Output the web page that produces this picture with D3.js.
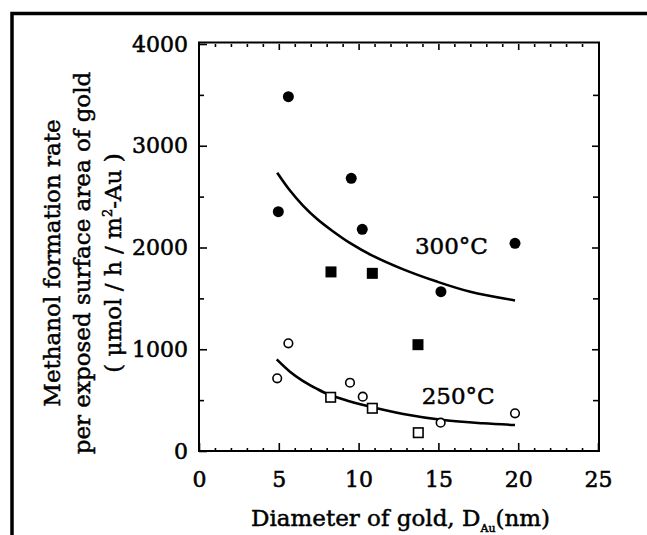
<!DOCTYPE html>
<html>
<head>
<meta charset="utf-8">
<script src="https://cdn.jsdelivr.net/npm/d3@7"></script>
<style>
  html, body { margin: 0; padding: 0; background: #fff; }
  svg { display: block; }
  svg text { font-family: "DejaVu Serif", serif; fill: #000; }
  .tick-label { font-size: 22px; stroke: #000; stroke-width: 0.55px; }
  .title { font-size: 23px; stroke: #000; stroke-width: 0.5px; }
  .temp-label { font-size: 23px; stroke: #000; stroke-width: 0.5px; }
</style>
</head>
<body>
<svg id="chart" width="647" height="535"></svg>
<script>
// 300 °C, filled circles / filled squares
const dia300Circles = [4.97, 5.6, 9.54, 10.23, 15.16, 19.8];
const rate300Circles = [2352, 3482, 2680, 2179, 1566, 2041];
const dia300Squares = [8.27, 10.86, 13.72];
const rate300Squares = [1760, 1746, 1045];

// 250 °C, open circles / open squares
const dia250Circles = [4.9, 5.6, 9.46, 10.26, 15.14, 19.8];
const rate250Circles = [714, 1058, 671, 534, 278, 370];
const dia250Squares = [8.25, 10.86, 13.74];
const rate250Squares = [528, 420, 180];

// fitted curves
const fit300Dia = [4.9, 5.7, 6.5, 7.4, 8.3, 9.5, 10.8, 12.8, 14.9, 17.0, 19.8];
const fit300Rate = [2735, 2560, 2415, 2280, 2170, 2040, 1925, 1785, 1665, 1565, 1480];
const fit250Dia = [4.87, 5.7, 6.5, 7.4, 8.2, 9.3, 10.3, 12.8, 15.3, 17.8, 19.8];
const fit250Rate = [901, 780, 690, 610, 550, 495, 452, 364, 305, 272, 255];

const xTicks = [0, 5, 10, 15, 20, 25];
const yTicks = [0, 1000, 2000, 3000, 4000];

const svg = d3.select('#chart');
const plot = { left: 199, right: 598, top: 44, bottom: 451 };

const x = d3.scaleLinear().domain([0, 25]).range([plot.left, plot.right]);
const y = d3.scaleLinear().domain([0, 4000]).range([plot.bottom, plot.top]);

// outer frame of the figure (only top and left edge visible)
svg.append('path')
  .attr('d', 'M12,535 L12,13.5 L647,13.5')
  .attr('fill', 'none').attr('stroke', '#000').attr('stroke-width', 3.5);

// plot frame
svg.append('rect')
  .attr('x', plot.left).attr('y', plot.top - 1.5)
  .attr('width', plot.right - plot.left + 1).attr('height', plot.bottom - plot.top + 1.5)
  .attr('fill', 'none').attr('stroke', '#000').attr('stroke-width', 2);

function styleAxis(g) {
  g.attr('font-family', null).attr('font-size', null);
  g.select('.domain').remove();
  g.selectAll('.tick line').attr('stroke', '#000').attr('stroke-width', 1.6);
  g.selectAll('text').attr('class', 'tick-label');
}

// minor ticks
const xMinor = d3.range(0, 26, 1).filter(d => d % 5 !== 0);
const yMinor = d3.range(500, 4000, 1000);

svg.append('g').attr('transform', `translate(0,${plot.bottom})`)
  .call(d3.axisBottom(x).tickValues(xMinor).tickSize(-3).tickFormat(''))
  .call(styleAxis);
svg.append('g').attr('transform', `translate(0,${plot.top})`)
  .call(d3.axisTop(x).tickValues(xMinor).tickSize(-3).tickFormat(''))
  .call(styleAxis);
svg.append('g').attr('transform', `translate(${plot.left},0)`)
  .call(d3.axisLeft(y).tickValues(yMinor).tickSize(-5).tickFormat(''))
  .call(styleAxis);
svg.append('g').attr('transform', `translate(${plot.right},0)`)
  .call(d3.axisRight(y).tickValues(yMinor).tickSize(-5).tickFormat(''))
  .call(styleAxis);

// major ticks + labels
svg.append('g').attr('transform', `translate(0,${plot.bottom})`)
  .call(d3.axisBottom(x).tickValues(xTicks).tickSize(-8).tickPadding(20).tickFormat(d3.format('d')))
  .call(styleAxis);
svg.append('g').attr('transform', `translate(0,${plot.top})`)
  .call(d3.axisTop(x).tickValues(xTicks.slice(1, -1)).tickSize(-6).tickFormat(''))
  .call(styleAxis);
svg.append('g').attr('transform', `translate(${plot.left},0)`)
  .call(d3.axisLeft(y).tickValues(yTicks).tickSize(-8).tickPadding(11).tickFormat(d3.format('d')))
  .call(styleAxis);
svg.append('g').attr('transform', `translate(${plot.right},0)`)
  .call(d3.axisRight(y).tickValues(yTicks.slice(1, -1)).tickSize(-6).tickFormat(''))
  .call(styleAxis);

// fitted curves
const line = d3.line().x(d => x(d[0])).y(d => y(d[1])).curve(d3.curveCatmullRom.alpha(0.5));
[[fit300Dia, fit300Rate], [fit250Dia, fit250Rate]].forEach(([xs, ys]) => {
  svg.append('path')
    .datum(d3.zip(xs, ys))
    .attr('d', line)
    .attr('fill', 'none').attr('stroke', '#000').attr('stroke-width', 2.6);
});

// markers
function circles(xs, ys, filled) {
  svg.append('g').selectAll('circle').data(d3.zip(xs, ys)).join('circle')
    .attr('cx', d => x(d[0])).attr('cy', d => y(d[1]))
    .attr('r', filled ? 5.5 : 4.3)
    .attr('fill', filled ? '#000' : '#fff')
    .attr('stroke', '#000').attr('stroke-width', filled ? 0 : 1.6);
}
function squares(xs, ys, filled) {
  const s = filled ? 11 : 9.5;
  svg.append('g').selectAll('rect').data(d3.zip(xs, ys)).join('rect')
    .attr('x', d => x(d[0]) - s / 2).attr('y', d => y(d[1]) - s / 2)
    .attr('width', s).attr('height', s)
    .attr('fill', filled ? '#000' : '#fff')
    .attr('stroke', '#000').attr('stroke-width', filled ? 0 : 1.6);
}
circles(dia300Circles, rate300Circles, true);
squares(dia300Squares, rate300Squares, true);
circles(dia250Circles, rate250Circles, false);
squares(dia250Squares, rate250Squares, false);

// temperature labels
svg.append('text').attr('class', 'temp-label')
  .attr('x', x(13.53)).attr('y', y(1936)).text('300°C');
svg.append('text').attr('class', 'temp-label')
  .attr('x', x(13.95)).attr('y', y(462)).text('250°C');

// x axis title
const xt = svg.append('text').attr('class', 'title')
  .attr('x', (plot.left + plot.right) / 2 + 2).attr('y', 526).attr('text-anchor', 'middle');
xt.append('tspan').text('Diameter of gold, D');
xt.append('tspan').attr('font-size', 11).attr('dy', 6).text('Au');
xt.append('tspan').attr('dy', -6).text('(nm)');

// y axis title (three lines)
const yLines = ['Methanol formation rate', 'per exposed surface area of gold'];
const yTitle = svg.append('g').attr('transform', 'translate(0,263) rotate(-90)');
yLines.forEach((t, i) => {
  yTitle.append('text').attr('class', 'title')
    .attr('x', 0).attr('y', 60 + i * 30).attr('text-anchor', 'middle').text(t);
});
const unit = yTitle.append('text').attr('class', 'title')
  .attr('x', 0).attr('y', 121).attr('text-anchor', 'middle');
unit.append('tspan').text('( μmol / h / m');
unit.append('tspan').attr('font-size', 13).attr('dy', -9).text('2');
unit.append('tspan').attr('dy', 9).text('-Au )');
</script>
</body>
</html>
